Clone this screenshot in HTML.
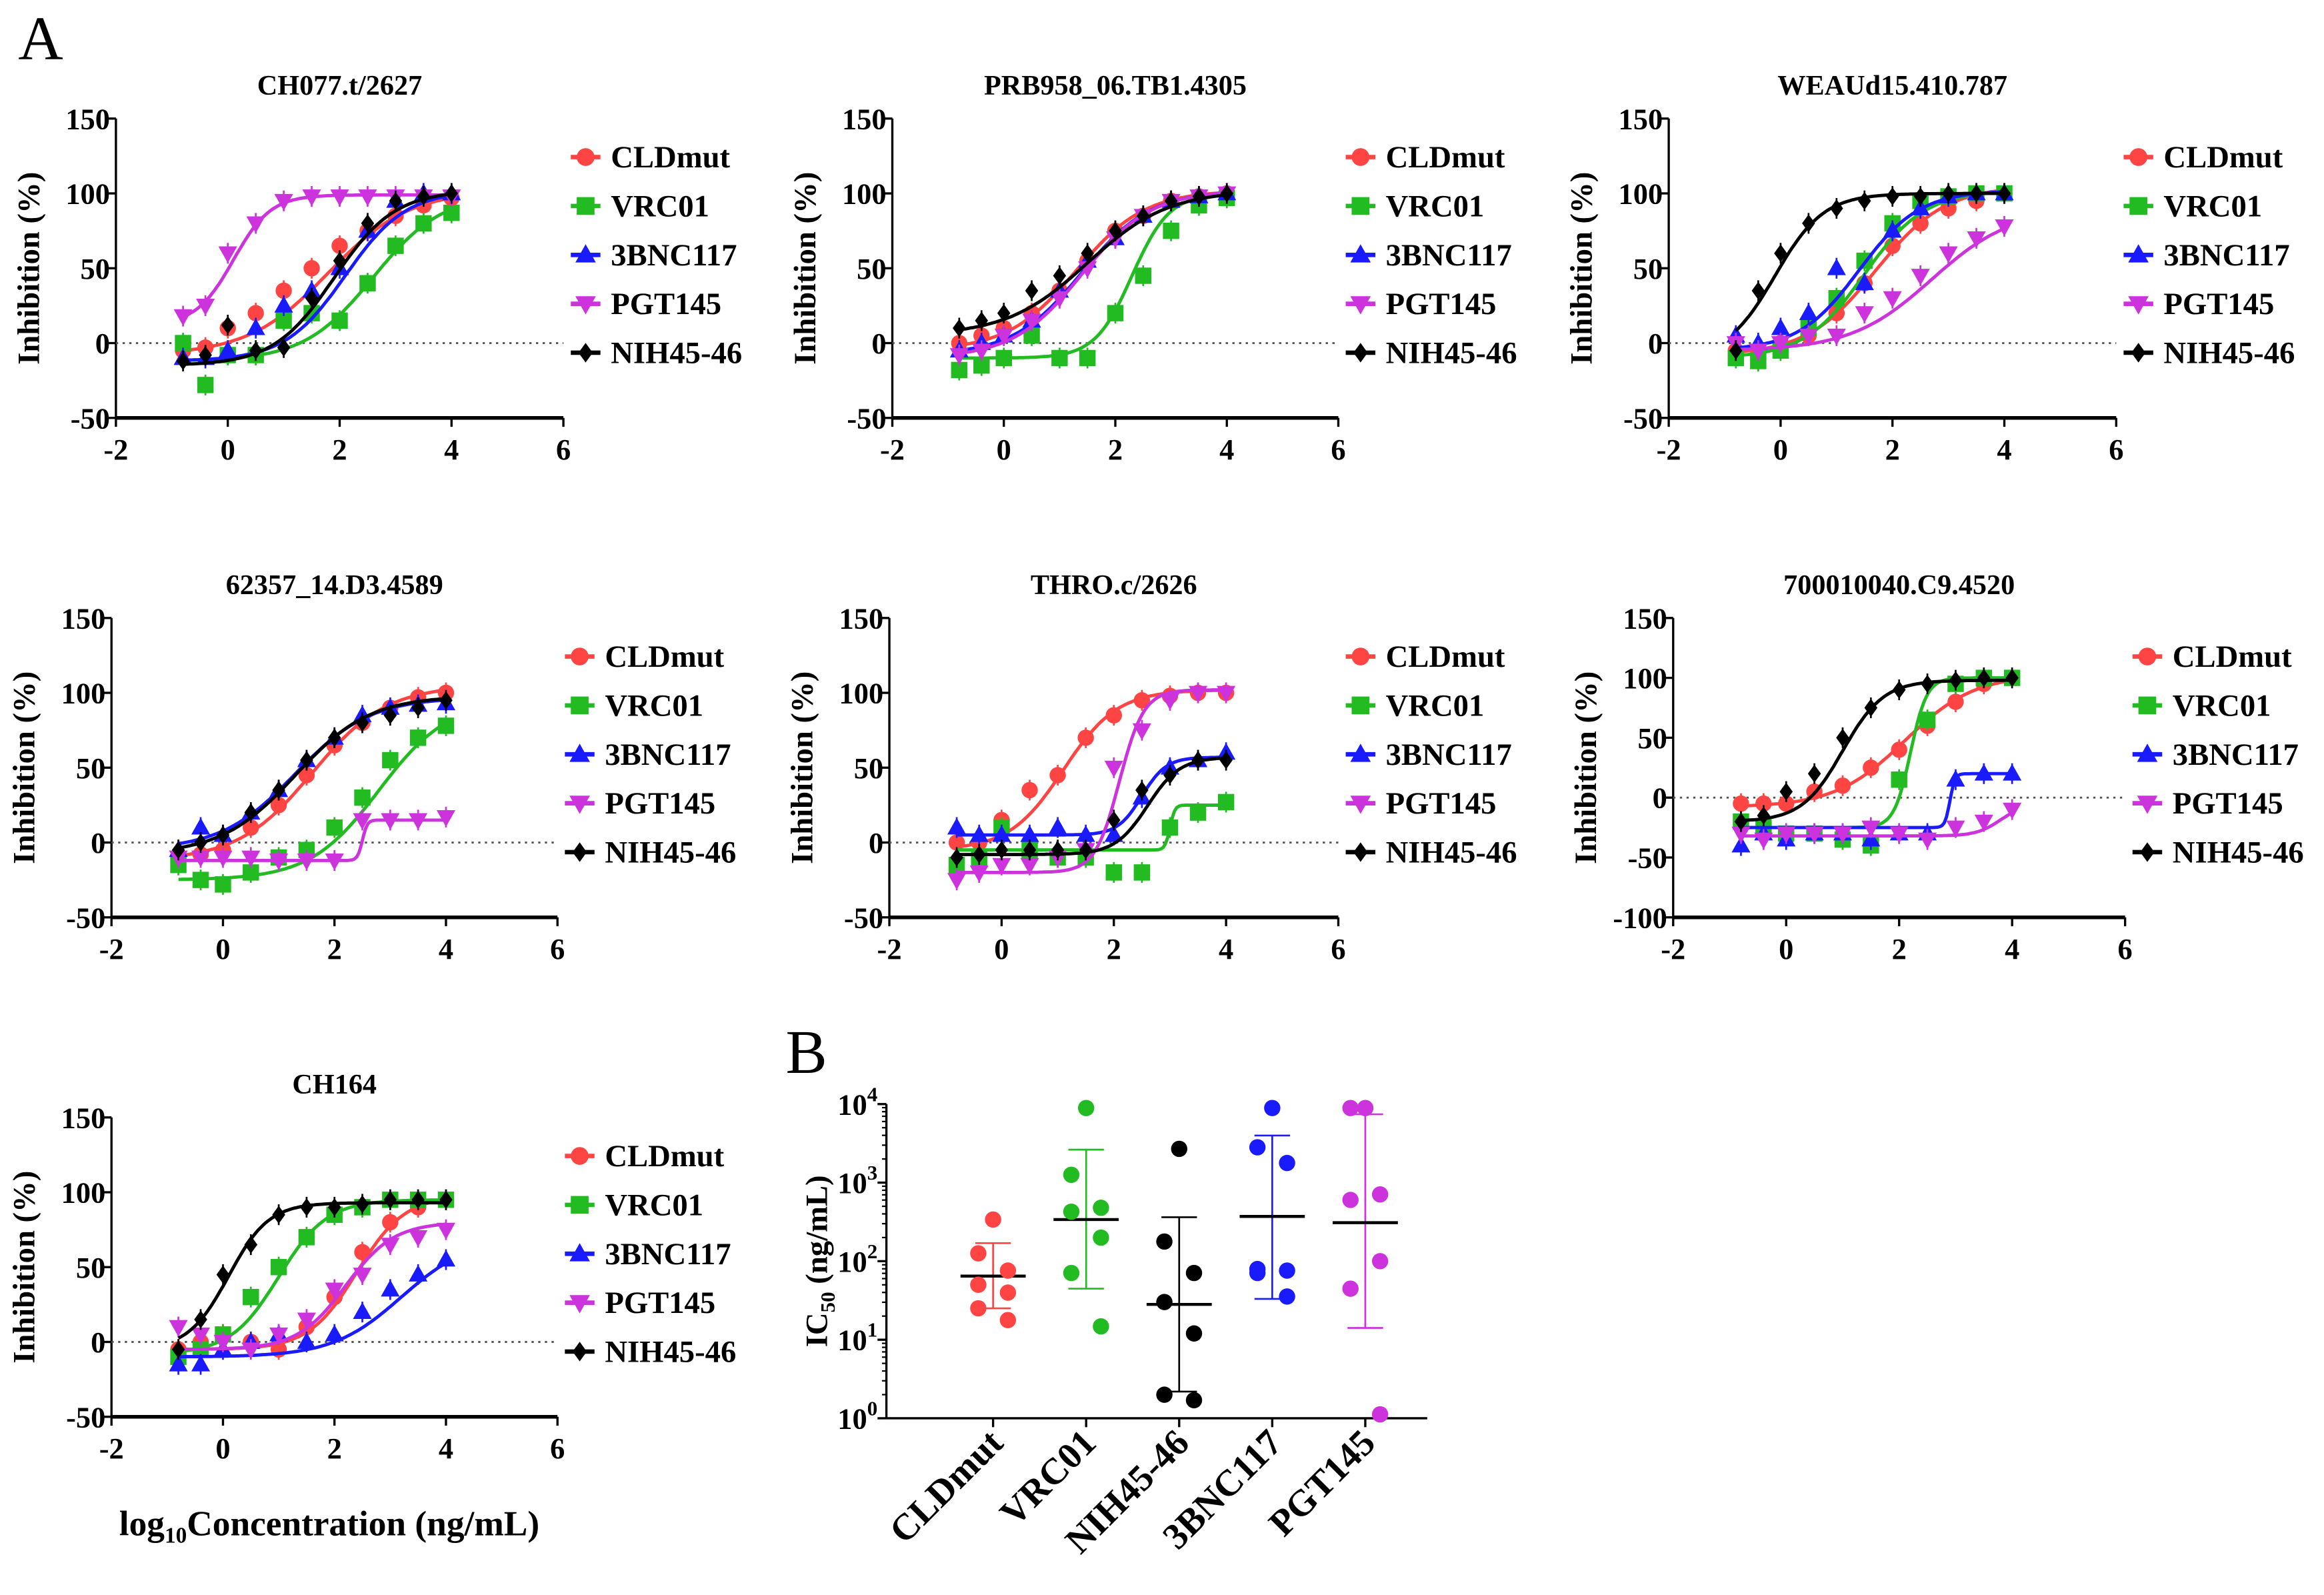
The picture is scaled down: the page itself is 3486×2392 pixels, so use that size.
<!DOCTYPE html>
<html><head><meta charset="utf-8"><style>
html,body{margin:0;padding:0;background:#fff}
svg, svg text{font-family:"Liberation Serif","DejaVu Serif",serif;font-weight:bold}
</style></head><body>
<svg id="fig" width="3486" height="2387" viewBox="0 0 1568 1074" xmlns="http://www.w3.org/2000/svg">
<text x="12" y="40" font-size="42" style="font-weight:normal">A</text>
<text x="530" y="724" font-size="42" style="font-weight:normal">B</text>
<text x="222" y="1036" font-size="24" text-anchor="middle">log<tspan font-size="15" dy="5">10</tspan><tspan dy="-5">Concentration (ng/mL)</tspan></text>
</svg>
<script>
const NS="http://www.w3.org/2000/svg";
const svg=document.getElementById('fig');
const seriesNames=["CLDmut","VRC01","3BNC117","PGT145","NIH45-46"];
const colors=["#ff4444","#22bb22","#1a1aff","#cc33dd","#000000"];
const xs=[-0.8,-0.4,0,0.5,1,1.5,2,2.5,3,3.5,4];
const titles=["CH077.t/2627","PRB958_06.TB1.4305","WEAUd15.410.787","62357_14.D3.4589","THRO.c/2626","700010040.C9.4520","CH164"];
const yRanges=[[-50,150],[-50,150],[-50,150],[-50,150],[-50,150],[-100,150],[-50,150]];
const p1=[[-5,-3,10,20,35,50,65,75,85,92,97],[0,-28,-8,-8,15,20,15,40,65,80,87],[-10,-10,-5,10,25,35,50,75,95,100,100],[18,25,60,80,95,98,98,98,98,98,98],[-12,-8,12,-5,-3,30,55,80,95,98,100]];
const p2=[[0,5,10,20,35,55,75,85,95,98,100],[-18,-15,-10,5,-10,-10,20,45,75,92,97],[-5,0,5,15,35,55,70,85,95,98,100],[-8,-5,5,15,30,50,70,85,95,98,100],[10,15,20,35,45,60,75,85,95,98,100]];
const p3=[[-5,-5,0,5,20,40,65,80,90,95,100],[-10,-12,-5,10,30,55,80,95,98,100,100],[5,0,10,20,50,40,75,90,98,100,100],[0,-5,0,5,5,20,30,45,60,70,78],[-5,35,60,80,90,95,98,98,100,100,100]];
const p4=[[-10,-8,-5,10,25,45,65,80,90,97,100],[-15,-25,-28,-20,-10,-5,10,30,55,70,78],[-5,10,5,20,35,55,70,85,90,92,93],[-10,-10,-10,-10,-12,-12,-12,15,15,15,17],[-5,0,5,20,35,55,70,80,85,90,95]];
const p5=[[0,0,15,35,45,70,85,95,98,100,100],[-15,-10,10,-5,-10,-10,-20,-20,10,20,27],[10,5,5,5,10,5,5,30,50,55,60],[-25,-20,-15,-15,-10,-5,50,75,95,100,100],[-10,-8,-5,-5,-5,-5,15,35,45,55,55]];
const p6=[[-5,-5,-5,5,10,25,40,60,80,95,100],[-20,-25,-30,-30,-35,-40,15,65,95,100,100],[-40,-30,-35,-30,-30,-35,-30,-30,15,20,20],[-30,-35,-30,-30,-30,-25,-30,-35,-25,-20,-10],[-20,-15,5,20,50,75,90,95,98,100,100]];
const p7=[[-5,0,5,0,-5,10,30,60,80,90,95],[-10,-5,5,30,50,70,85,90,95,95,95],[-15,-15,-5,0,5,0,5,20,35,45,55],[10,5,0,-5,5,15,35,45,65,70,75],[-5,15,45,65,85,90,90,92,95,95,95]];
const points=[p1,p2,p3,p4,p5,p6,p7];
const f1=[[-8,102,1.8,0.6],[-12,100,2.6,0.7],[-12,102,2.1,0.8],[12,99,0.1,1.3],[-15,102,1.9,0.8]];
const f2=[[-5,102,1.3,0.7],[-10,100,2.3,1.3],[-8,102,1.4,0.7],[-10,102,1.4,0.7],[5,102,1.5,0.6]];
const f3=[[-8,105,1.7,0.7],[-10,102,1.5,0.8],[-5,102,1.4,0.8],[-5,90,2.7,0.6],[-10,100,-0.1,1.0]];
const f4=[[-12,105,1.6,0.65],[-25,95,2.8,0.7],[-5,97,1.3,0.65],[-12,15,2.5,10],[-8,98,1.3,0.65]];
const f5=[[-5,102,1.1,0.9],[-5,25,3.0,10],[5,57,2.5,2],[-20,102,2.1,2],[-8,57,2.6,1.5]];
const f6=[[-8,103,2.1,0.7],[-25,100,2.2,3],[-25,20,2.9,10],[-32,-5,3.8,2],[-20,98,1.0,1.2]];
const f7=[[-5,98,2.4,1.0],[-8,95,1.0,1.0],[-10,70,3.2,0.7],[-5,80,2.2,1.0],[-5,93,0.1,1.2]];
const fits=[f1,f2,f3,f4,f5,f6,f7];
const xTicks=["-2","0","2","4","6"];
const L=[[78,380,80,282],[602,903,80,282],[1126,1428,80,282],[75,376,417,619],[600,903,417,619],[1129,1434,417,619],[75,376,754,956]];

function mk(tag,attrs,parent){const e=document.createElementNS(NS,tag);for(const k in attrs)e.setAttribute(k,attrs[k]);(parent||svg).appendChild(e);return e;}
function marker(g,s,cx,cy,c,r){
  if(s===0)return mk('circle',{cx,cy,r:r,fill:c},g);
  if(s===1)return mk('rect',{x:cx-r,y:cy-r,width:2*r,height:2*r,fill:c},g);
  if(s===2)return mk('polygon',{points:`${cx},${cy-r*1.2} ${cx-r*1.15},${cy+r*0.85} ${cx+r*1.15},${cy+r*0.85}`,fill:c},g);
  if(s===3)return mk('polygon',{points:`${cx},${cy+r*1.2} ${cx-r*1.15},${cy-r*0.85} ${cx+r*1.15},${cy-r*0.85}`,fill:c},g);
  return mk('polygon',{points:`${cx},${cy-r*1.1} ${cx+r*0.8},${cy} ${cx},${cy+r*1.1} ${cx-r*0.8},${cy}`,fill:c},g);
}
for(let p=0;p<7;p++){
  const [x0,x1,yt,yb]=L[p];const [ymin,ymax]=yRanges[p];
  const g=mk('g',{});
  
  
  const X=v=>x0+(v+2)/8*(x1-x0);
  const Y=v=>yb-(v-ymin)/(ymax-ymin)*(yb-yt);
  const t=mk('text',{x:(x0+x1)/2,y:yt-16,'font-size':19,'text-anchor':'middle'},g);t.textContent=titles[p];
  
  
  const yl=mk('text',{transform:`translate(${x0-52},${(yt+yb)/2}) rotate(-90)`,'font-size':21,'text-anchor':'middle'},g);yl.textContent="Inhibition (%)";
  
  
  mk('line',{x1:x0,y1:yt,x2:x0,y2:yb,stroke:'#000','stroke-width':1.5},g);
  mk('line',{x1:x0,y1:yb,x2:x1,y2:yb,stroke:'#000','stroke-width':2.5},g);
  for(let v=ymin;v<=ymax;v+=50){mk('line',{x1:x0-5,y1:Y(v),x2:x0,y2:Y(v),stroke:'#000','stroke-width':1.5},g);
    const tt=mk('text',{x:x0-4,y:Y(v)+7,'font-size':20,'text-anchor':'end'},g);tt.textContent=v;}
  xTicks.forEach((lab,i)=>{const v=-2+2*i;mk('line',{x1:X(v),y1:yb,x2:X(v),y2:yb+6,stroke:'#000','stroke-width':1.5},g);
    const tt=mk('text',{x:X(v),y:yb+28,'font-size':20,'text-anchor':'middle'},g);tt.textContent=lab;});
  mk('line',{x1:x0,y1:Y(0),x2:x1,y2:Y(0),stroke:'#555','stroke-width':1.3,'stroke-dasharray':'1.5,3'},g);
  for(let s=0;s<5;s++){
    const [b,tp,ec,h]=fits[p][s];let d='';
    for(let i=0;i<=120;i++){const v=-0.8+i*4.8/120;const yv=b+(tp-b)/(1+Math.pow(10,(ec-v)*h));d+=(i?'L':'M')+X(v).toFixed(1)+','+Y(yv).toFixed(1);}
    const c=mk('path',{d,fill:'none',stroke:colors[s],'stroke-width':2.2},g);
    
    
    points[p][s].forEach((yv,i)=>{mk('line',{x1:X(xs[i]),y1:Y(yv)-7,x2:X(xs[i]),y2:Y(yv)+7,stroke:colors[s],'stroke-width':1.2},g);
      const m=marker(g,s,X(xs[i]),Y(yv),colors[s],5.5);
      
      });
    const ly=yt+26+s*33;const lg=mk('g',{},g);
    
    
    mk('line',{x1:x1+5,y1:ly,x2:x1+25,y2:ly,stroke:colors[s],'stroke-width':3},lg);
    marker(lg,s,x1+15,ly,colors[s],6);
    const lt=mk('text',{x:x1+32,y:ly+7,'font-size':21},lg);lt.textContent=seriesNames[s];
  }
}
const bCats=["CLDmut","VRC01","NIH45-46","3BNC117","PGT145"];
const bColors=["#ff4444","#22bb22","#000000","#1a1aff","#cc33dd"];
const bLog=[[2.53,2.1,1.88,1.7,1.6,1.4,1.25],[3.95,3.1,2.68,2.63,2.3,1.85,1.17],[3.43,2.25,1.85,1.48,1.08,0.3,0.23],[3.95,3.45,3.25,1.9,1.88,1.85,1.55],[3.95,3.95,2.85,2.78,2.0,1.65,0.05]];
const bMean=[1.81,2.53,1.45,2.57,2.49];
const bLow=[1.4,1.65,0.34,1.52,1.15];
const bHigh=[2.23,3.42,2.56,3.6,3.87];
const bTicks=["0","1","2","3","4"];
{
  const g=mk('g',{});
  
  
  const x0=598,x1=963,yb=957,yt=745;
  const Y=e=>yb-e*(yb-yt)/4;
  const X=i=>670+i*62.8;
  mk('line',{x1:x0,y1:yt,x2:x0,y2:yb,stroke:'#000','stroke-width':1.5},g);
  mk('line',{x1:x0,y1:yb,x2:x1,y2:yb,stroke:'#000','stroke-width':1.5},g);
  const yl=mk('text',{transform:`translate(${x0-40},${(yt+yb)/2}) rotate(-90)`,'font-size':21,'text-anchor':'middle'},g);
  yl.innerHTML='IC<tspan font-size="14" dy="5">50</tspan><tspan dy="-5"> (ng/mL)</tspan>';
  
  
  bTicks.forEach(e=>{const yy=Y(+e);mk('line',{x1:x0-6,y1:yy,x2:x0,y2:yy,stroke:'#000','stroke-width':1.5},g);
    const t=mk('text',{x:x0-6,y:yy+7,'font-size':20,'text-anchor':'end'},g);
    t.innerHTML='10<tspan font-size="14" dy="-9">'+e+'</tspan>';
    if(+e<4)for(let k=2;k<10;k++){const ym=Y(+e+Math.log10(k));mk('line',{x1:x0-3,y1:ym,x2:x0,y2:ym,stroke:'#000','stroke-width':1},g);}});
  bCats.forEach((c,i)=>{const cx=X(i);const col=bColors[i];
    mk('line',{x1:cx,y1:yb,x2:cx,y2:yb+6,stroke:'#000','stroke-width':1.5},g);
    mk('line',{x1:cx,y1:Y(bLow[i]),x2:cx,y2:Y(bHigh[i]),stroke:col,'stroke-width':1.2},g);
    mk('line',{x1:cx-12,y1:Y(bLow[i]),x2:cx+12,y2:Y(bLow[i]),stroke:col,'stroke-width':1.2},g);
    mk('line',{x1:cx-12,y1:Y(bHigh[i]),x2:cx+12,y2:Y(bHigh[i]),stroke:col,'stroke-width':1.2},g);
    mk('line',{x1:cx-22,y1:Y(bMean[i]),x2:cx+22,y2:Y(bMean[i]),stroke:'#000','stroke-width':2},g);
    bLog[i].forEach((v,j)=>{const dx=[0,-10,10,-10,10,-10,10][j];const d=mk('circle',{cx:cx+dx,cy:Y(v),r:5.5,fill:col},g);
      
      });
    const t=mk('text',{transform:`translate(${cx+8},${yb+18}) rotate(-45)`,'font-size':25,'text-anchor':'end'},g);t.textContent=c;
    
    
  });
}
</script>
</body></html>
